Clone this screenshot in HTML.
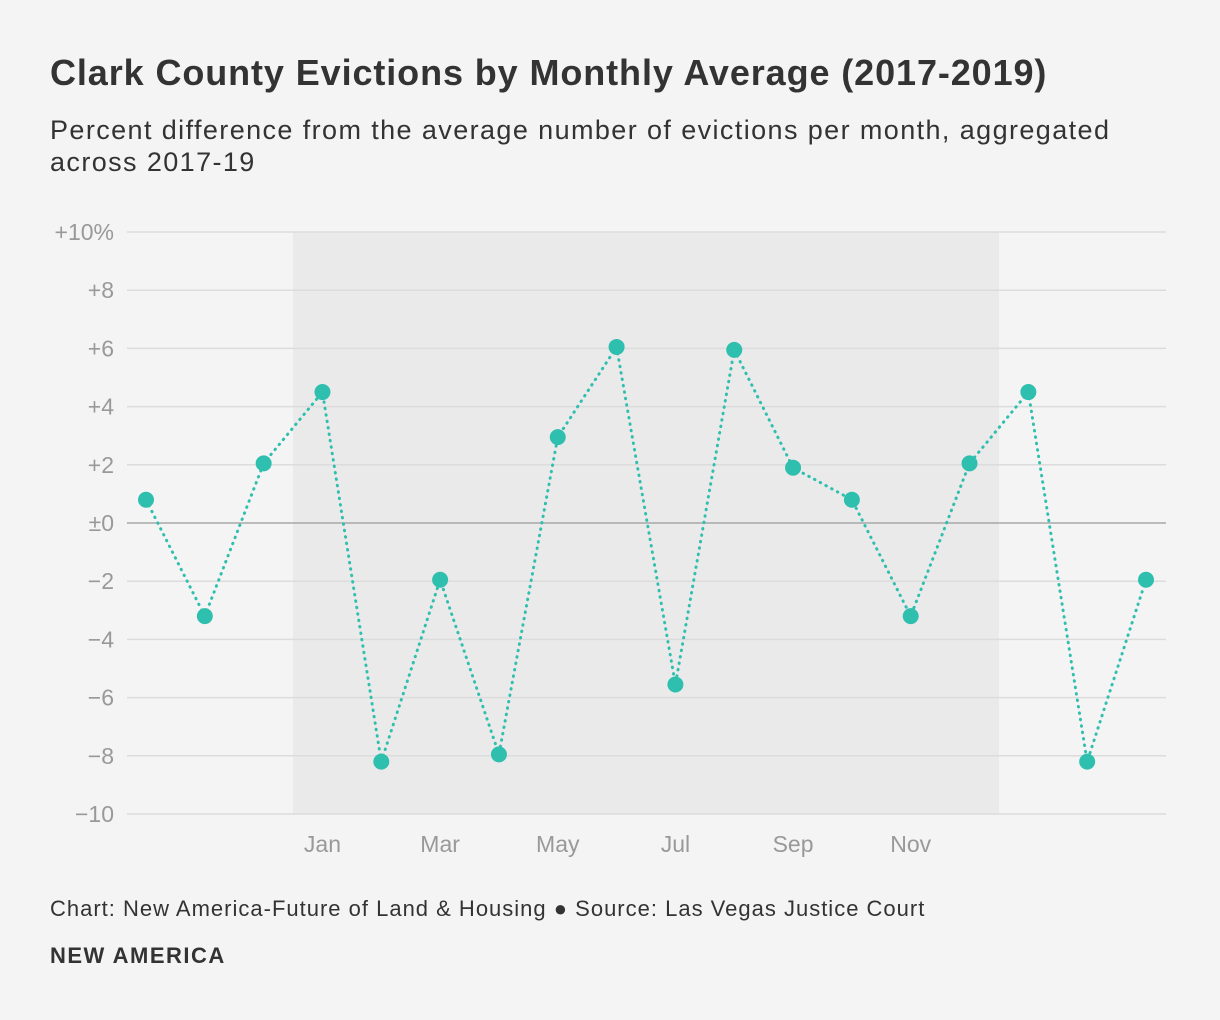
<!DOCTYPE html>
<html><head><meta charset="utf-8"><style>
body{margin:0;background:#f4f4f4;font-family:"Liberation Sans",sans-serif;}
#wrap{position:relative;width:1220px;height:1020px;overflow:hidden;}
.t{position:absolute;left:50px;margin:0;color:#333;white-space:nowrap;}
</style></head><body>
<div id="wrap">
<h1 class="t" style="top:52px;font-size:36px;letter-spacing:0.9px;font-weight:bold;color:#333;">Clark County Evictions by Monthly Average (2017-2019)</h1>
<div class="t" style="top:114px;font-size:27px;line-height:32px;letter-spacing:1.4px;color:#333;">Percent difference from the average number of evictions per month, aggregated<br>across 2017-19</div>
<svg id="chart" width="1220" height="1020" style="position:absolute;left:0;top:0"></svg>
<div class="t" style="top:896px;font-size:22px;letter-spacing:1px;color:#333;">Chart: New America-Future of Land &amp; Housing ● Source: Las Vegas Justice Court</div>
<div class="t" style="top:943px;font-size:22px;letter-spacing:1.5px;font-weight:bold;color:#333;">NEW AMERICA</div>
</div>
<script>
const months = ["Oct","Nov","Dec","Jan","Feb","Mar","Apr","May","Jun","Jul","Aug","Sep","Oct","Nov","Dec","Jan","Feb","Mar"];
const values = [0.8,-3.2,2.05,4.5,-8.2,-1.95,-7.95,2.95,6.05,-5.55,5.95,1.9,0.8,-3.2,2.05,4.5,-8.2,-1.95];
const yTicks = [10,8,6,4,2,0,-2,-4,-6,-8,-10];
const yTickLabels = ["+10%","+8","+6","+4","+2","±0","−2","−4","−6","−8","−10"];
const xLabelMonths = ["Jan","Mar","May","Jul","Sep","Nov"];
const shadeStart = 3, shadeEnd = 14;

const NS="http://www.w3.org/2000/svg";
const svg=document.getElementById('chart');
const x0=146, x1=1146, yTop=232, yBot=814;
const step=(x1-x0)/(months.length-1);
const xs=i=>x0+i*step;
const ys=v=>yTop+(10-v)/20*(yBot-yTop);
function mk(tag,attrs){const e=document.createElementNS(NS,tag);for(const k in attrs)e.setAttribute(k,attrs[k]);svg.appendChild(e);return e;}

const sh=mk('rect',{x:xs(shadeStart)-step/2,y:yTop,width:(shadeEnd-shadeStart+1)*step,height:yBot-yTop,fill:'#eaeaea'});



yTicks.forEach((v,i)=>{
  const l=mk('line',{x1:127,x2:1166,y1:ys(v),y2:ys(v),stroke:v===0?'#a8a8a8':'#dcdcdc','stroke-width':1.5});
  
  
  const t=mk('text',{x:114,y:ys(v)+8,'text-anchor':'end','font-size':23,fill:'#999'});
  t.textContent=yTickLabels[i];
  
  
});

months.forEach((m,i)=>{
  if(i>=shadeStart && i<=shadeEnd && xLabelMonths.includes(m) && (i-shadeStart)%2===0){
    const t=mk('text',{x:xs(i),y:852,'text-anchor':'middle','font-size':23,fill:'#999'});
    t.textContent=m;
    
    
  }
});

const pl=mk('polyline',{points:values.map((v,i)=>xs(i)+','+ys(v)).join(' '),fill:'none',stroke:'#2fbfae','stroke-width':3,'stroke-dasharray':'0.5 6','stroke-linecap':'round'});


values.forEach((v,i)=>{
  const c=mk('circle',{cx:xs(i),cy:ys(v),r:8,fill:'#2fbfae'});
  
  
});
</script>
</body></html>
